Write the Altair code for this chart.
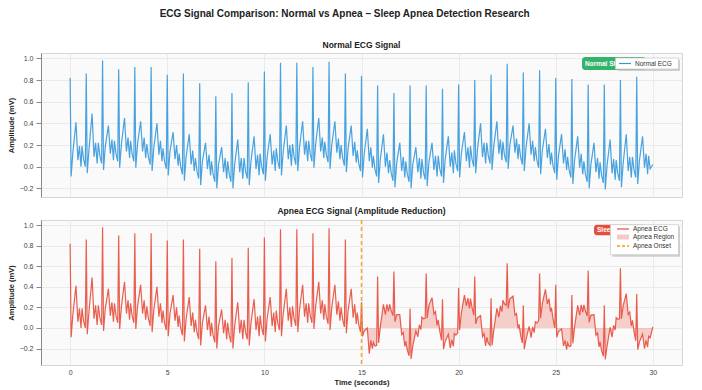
import altair as alt
import pandas as pd

FONT = "Liberation Sans"

# ---- data ----
beat_times = [0.0, 0.83, 1.67, 2.5, 3.33, 4.17, 5.0, 5.83, 6.67, 7.5, 8.33, 9.17,
              10.0, 10.83, 11.67, 12.5, 13.33, 14.17, 15.0, 15.83, 16.67, 17.5, 18.33, 19.17,
              20.0, 20.83, 21.67, 22.5, 23.33, 24.17, 25.0, 25.83, 26.67, 27.5, 28.33, 29.17]
# time of each vertex relative to the R peak of its beat (P, dip, Q, R, S, rise, T, dip, bump, end)
beat_offsets = [-0.22, -0.14, -0.05, 0.0, 0.05, 0.14, 0.30, 0.40, 0.48, 0.56]

normal_beats = [
    [0.16, 0.04, -0.03, 0.82, -0.09, 0.13, 0.41, 0.06, 0.19, 0.00],
    [0.19, 0.07, 0.00, 0.86, -0.06, 0.16, 0.49, 0.09, 0.22, 0.03],
    [0.22, 0.10, 0.03, 0.98, -0.03, 0.19, 0.38, 0.12, 0.25, 0.06],
    [0.24, 0.12, 0.05, 0.90, -0.01, 0.21, 0.45, 0.14, 0.27, 0.08],
    [0.24, 0.12, 0.05, 0.92, -0.01, 0.21, 0.42, 0.14, 0.27, 0.08],
    [0.21, 0.09, 0.02, 0.92, -0.04, 0.18, 0.40, 0.11, 0.24, 0.05],
    [0.17, 0.05, -0.02, 0.85, -0.08, 0.14, 0.32, 0.07, 0.20, 0.01],
    [0.12, 0.00, -0.07, 0.86, -0.13, 0.09, 0.30, 0.02, 0.15, -0.04],
    [0.08, -0.04, -0.11, 0.77, -0.17, 0.05, 0.22, -0.02, 0.11, -0.08],
    [0.05, -0.07, -0.14, 0.65, -0.20, 0.02, 0.18, -0.05, 0.08, -0.11],
    [0.05, -0.07, -0.14, 0.68, -0.20, 0.02, 0.25, -0.05, 0.08, -0.11],
    [0.08, -0.04, -0.11, 0.78, -0.17, 0.05, 0.28, -0.02, 0.11, -0.08],
    [0.12, 0.00, -0.07, 0.88, -0.13, 0.09, 0.30, 0.02, 0.15, -0.04],
    [0.17, 0.05, -0.02, 0.96, -0.08, 0.14, 0.38, 0.07, 0.20, 0.01],
    [0.21, 0.09, 0.02, 0.96, -0.04, 0.18, 0.42, 0.11, 0.24, 0.05],
    [0.24, 0.12, 0.05, 0.92, -0.01, 0.21, 0.45, 0.14, 0.27, 0.08],
    [0.23, 0.11, 0.04, 0.97, -0.02, 0.20, 0.42, 0.13, 0.26, 0.07],
    [0.20, 0.08, 0.01, 0.86, -0.05, 0.17, 0.38, 0.10, 0.23, 0.04],
    [0.15, 0.03, -0.04, 0.84, -0.10, 0.12, 0.35, 0.05, 0.18, -0.01],
    [0.10, -0.02, -0.09, 0.75, -0.15, 0.07, 0.30, 0.00, 0.13, -0.06],
    [0.06, -0.06, -0.13, 0.68, -0.19, 0.03, 0.22, -0.04, 0.09, -0.10],
    [0.05, -0.07, -0.14, 0.75, -0.20, 0.02, 0.18, -0.05, 0.08, -0.11],
    [0.07, -0.05, -0.12, 0.75, -0.18, 0.04, 0.22, -0.03, 0.10, -0.09],
    [0.10, -0.02, -0.09, 0.72, -0.15, 0.07, 0.28, 0.00, 0.13, -0.06],
    [0.15, 0.03, -0.04, 0.76, -0.10, 0.12, 0.32, 0.05, 0.18, -0.01],
    [0.19, 0.07, 0.00, 0.80, -0.06, 0.16, 0.40, 0.09, 0.22, 0.03],
    [0.22, 0.10, 0.03, 0.85, -0.03, 0.19, 0.42, 0.12, 0.25, 0.06],
    [0.23, 0.11, 0.04, 0.95, -0.02, 0.20, 0.38, 0.13, 0.26, 0.07],
    [0.21, 0.09, 0.02, 0.87, -0.04, 0.18, 0.40, 0.11, 0.24, 0.05],
    [0.18, 0.06, -0.01, 0.89, -0.07, 0.15, 0.35, 0.08, 0.21, 0.02],
    [0.13, 0.01, -0.06, 0.82, -0.12, 0.10, 0.30, 0.03, 0.16, -0.03],
    [0.09, -0.03, -0.10, 0.81, -0.16, 0.06, 0.28, -0.01, 0.12, -0.07],
    [0.05, -0.07, -0.14, 0.76, -0.20, 0.02, 0.22, -0.05, 0.08, -0.11],
    [0.04, -0.08, -0.15, 0.76, -0.21, 0.01, 0.25, -0.06, 0.07, -0.12],
    [0.06, -0.06, -0.13, 0.80, -0.19, 0.03, 0.30, -0.04, 0.09, -0.10],
    [0.09, -0.03, -0.10, 0.83, -0.16, 0.06, 0.28, -0.01, 0.12, -0.07],
]

apnea_onset = 15.0
apnea_first_beat = 18
apnea_beats = [
    [0.15, 0.03, -0.04, 0.25, -0.08, -0.03, 0.00, -0.25, -0.12, -0.20],
    [-0.14, -0.175, -0.17, 0.50, -0.145, 0.015, 0.23, 0.13, 0.23, 0.16],
    [0.23, 0.17, 0.12, 0.55, 0.06, 0.13, 0.13, -0.065, -0.045, -0.18],
    [-0.13, -0.215, -0.27, 0.19, -0.30, -0.175, -0.03, -0.085, 0.03, -0.015],
    [0.105, 0.09, 0.095, 0.53, 0.095, 0.22, 0.295, 0.135, 0.16, 0.025],
    [0.08, -0.03, -0.12, 0.28, -0.205, -0.13, -0.06, -0.195, -0.115, -0.18],
    [-0.055, -0.07, -0.05, 0.39, -0.02, 0.145, 0.32, 0.215, 0.29, 0.19],
    [0.285, 0.20, 0.125, 0.50, 0.04, 0.10, 0.12, -0.085, -0.055, -0.175],
    [-0.09, -0.15, -0.17, 0.29, -0.17, -0.02, 0.19, 0.105, 0.215, 0.16],
    [0.27, 0.235, 0.22, 0.63, 0.19, 0.285, 0.31, 0.125, 0.14, -0.005],
    [0.035, -0.07, -0.145, 0.22, -0.205, -0.11, 0.015, -0.095, 0.01, -0.045],
    [0.06, 0.05, 0.07, 0.53, 0.095, 0.24, 0.375, 0.235, 0.285, 0.16],
    [0.195, 0.09, 0.0, 0.42, -0.09, -0.035, -0.01, -0.175, -0.12, -0.21],
    [-0.145, -0.18, -0.175, 0.32, -0.15, 0.01, 0.22, 0.125, 0.225, 0.155],
    [0.225, 0.165, 0.115, 0.56, 0.055, 0.125, 0.13, -0.07, -0.05, -0.185],
    [-0.135, -0.22, -0.275, 0.22, -0.305, -0.18, 0.005, -0.09, 0.025, -0.02],
    [0.10, 0.085, 0.09, 0.58, 0.09, 0.215, 0.335, 0.13, 0.155, 0.02],
    [0.075, -0.035, -0.125, 0.33, -0.21, -0.135, -0.06, -0.2, -0.12, -0.185],
]

tail_times = [29.78, 29.86, 30.0]
normal_tail = [0.10, -0.02, 0.02]
apnea_tail = [-0.08, -0.095, 0.01]

y_ticks = [-0.2, 0.0, 0.2, 0.4, 0.6, 0.8, 1.0]
x_ticks = [0, 5, 10, 15, 20, 25, 30]

# ---- build tables ----
def build(beats_for):
    rows = []
    for k, bt in enumerate(beat_times):
        vals = beats_for(k)
        for off, v in zip(beat_offsets, vals):
            t = round(bt + off, 3)
            if t >= 0:
                rows.append({"t": t, "v": v})
    return rows

normal_rows = build(lambda k: normal_beats[k])
normal_rows += [{"t": t, "v": v} for t, v in zip(tail_times, normal_tail)]
apnea_rows = build(lambda k: normal_beats[k] if k < apnea_first_beat else apnea_beats[k - apnea_first_beat])
apnea_rows += [{"t": t, "v": v} for t, v in zip(tail_times, apnea_tail)]

df_n = pd.DataFrame(normal_rows)
df_a = pd.DataFrame(apnea_rows)
df_region = df_a[df_a["t"] >= apnea_onset]

W = 641
H1 = 144
H2 = 145
BLUE = "#3498db"
RED = "#e74c3c"
ORANGE = "#f39c12"
GREEN = "#34b36a"

xs = alt.Scale(domain=[-1.5, 31.5], nice=False, zero=False)

def one():
    return alt.Data(values=[{"a": 1}])

def rect(x1, x2, y1, y2, **kw):
    return alt.Chart(one()).mark_rect(**kw).encode(
        x=alt.value(x1), x2=alt.value(x2), y=alt.value(y1), y2=alt.value(y2))

def txt(x, y, s, **kw):
    return alt.Chart(one()).mark_text(align="left", baseline="middle", font=FONT, **kw).encode(
        x=alt.value(x), y=alt.value(y), text=alt.value(s))

def hline(x1, x2, y, **kw):
    return alt.Chart(one()).mark_rule(**kw).encode(
        x=alt.value(x1), x2=alt.value(x2), y=alt.value(y))

# ---- top panel ----
ys1 = alt.Scale(domain=[-0.28, 1.05], nice=False, zero=False)
top_line = alt.Chart(df_n).mark_line(color=BLUE, strokeWidth=1.2, opacity=0.9).encode(
    x=alt.X("t:Q", scale=xs, axis=alt.Axis(values=x_ticks, labels=False, title=None,
                                            ticks=False, domain=False, grid=True)),
    y=alt.Y("v:Q", scale=ys1, axis=alt.Axis(values=y_ticks, format=".1f", title="Amplitude (mV)",
                                             titlePadding=4, labelPadding=3)),
)
top_deco = [
    rect(541, 605, 4, 17, color=GREEN, cornerRadius=3),
    txt(544, 10.5, "Normal Sleep", color="white", fontSize=6.5, fontWeight="bold"),
    rect(576.5, 639, 7, 18, color="#bbbbbb", opacity=0.7),
    rect(574.5, 637.5, 5, 16, color="white", stroke="#cccccc", strokeWidth=0.8),
    hline(578, 590, 10.5, color=BLUE, strokeWidth=1.2),
    txt(594, 10.5, "Normal ECG", color="#333333", fontSize=6.5),
]
top = alt.layer(top_line, *top_deco).properties(
    width=W, height=H1,
    title=alt.TitleParams("Normal ECG Signal", fontSize=8.5, font=FONT, fontWeight="bold",
                          color="#222222", anchor="middle", offset=4))

# ---- bottom panel ----
ys2 = alt.Scale(domain=[-0.36, 1.05], nice=False, zero=False)
bx = alt.X("t:Q", scale=xs, axis=alt.Axis(values=x_ticks, title="Time (seconds)", format="d",
                                           ticks=False, domain=False, grid=True,
                                           labelPadding=3, titlePadding=3))
by = alt.Y("v:Q", scale=ys2, axis=alt.Axis(values=y_ticks, format=".1f", title="Amplitude (mV)",
                                            titlePadding=4, labelPadding=3))
region = alt.Chart(df_region).mark_area(color=RED, opacity=0.25).encode(
    x=bx, y=by, y2=alt.datum(0))
bot_line = alt.Chart(df_a).mark_line(color=RED, strokeWidth=1.2, opacity=0.9).encode(x=bx, y=by)
onset = alt.Chart(alt.Data(values=[{"t": apnea_onset}])).mark_rule(
    color=ORANGE, strokeDash=[4, 3], strokeWidth=1.5, opacity=0.85).encode(x=alt.X("t:Q", scale=xs))
bot_deco = [
    rect(553, 605, 4.7, 15.3, color=RED, cornerRadius=3),
    txt(556, 10, "Sleep Apnea", color="white", fontSize=6.5, fontWeight="bold"),
    rect(571.5, 639, 6.7, 36.7, color="#bbbbbb", opacity=0.7),
    rect(569.5, 637.5, 4.7, 34.7, color="white", stroke="#cccccc", strokeWidth=0.8),
    hline(576, 588, 9, color=RED, strokeWidth=1.2),
    rect(576, 588, 14.5, 19.5, color=RED, opacity=0.3),
    hline(576, 588, 26, color=ORANGE, strokeWidth=1.3, strokeDash=[3, 2]),
    txt(592, 9, "Apnea ECG", color="#333333", fontSize=6.5),
    txt(592, 17, "Apnea Region", color="#333333", fontSize=6.5),
    txt(592, 26, "Apnea Onset", color="#333333", fontSize=6.5),
]
bottom = alt.layer(region, bot_line, onset, *bot_deco).properties(
    width=W, height=H2,
    title=alt.TitleParams("Apnea ECG Signal (Amplitude Reduction)", fontSize=8.5, font=FONT,
                          fontWeight="bold", color="#222222", anchor="middle", offset=4))

chart = alt.vconcat(top, bottom, spacing=8).properties(
    title=alt.TitleParams("ECG Signal Comparison: Normal vs Apnea – Sleep Apnea Detection Research",
                          fontSize=10, font=FONT, fontWeight="bold", color="#222222",
                          anchor="middle", offset=21),
    padding={"left": 6, "top": 9, "right": 5, "bottom": 5},
).configure_view(fill="#fafafa", stroke="#d6d6d6", strokeWidth=1).configure_axis(
    gridColor="#e6e6e6", gridWidth=0.8, labelFont=FONT, labelFontSize=7, labelColor="#444444",
    titleFont=FONT, titleFontSize=7.5, titleFontWeight="bold", titleColor="#222222"
).configure_concat(spacing=8)

chart.save("out.html", embed_options={"renderer": "svg", "actions": False})
